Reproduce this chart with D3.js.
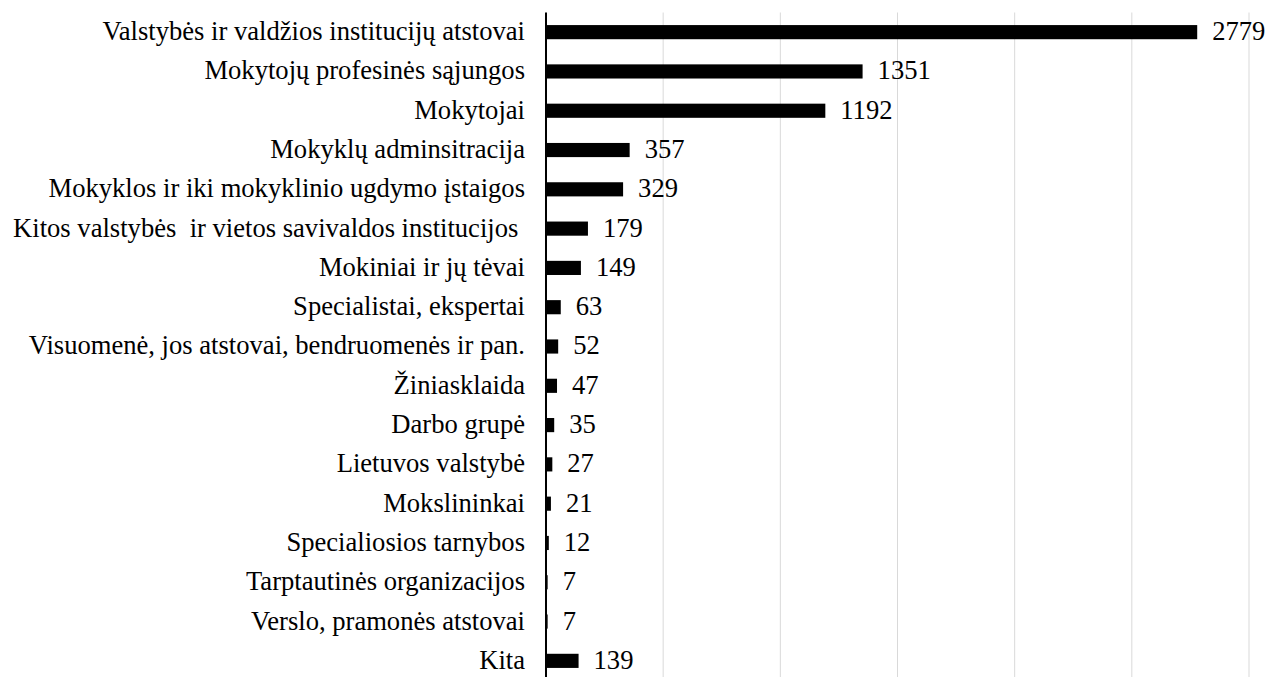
<!DOCTYPE html>
<html>
<head>
<meta charset="utf-8">
<script src="https://cdn.jsdelivr.net/npm/d3@7"></script>
<style>
  body { margin: 0; background: #fff; }
</style>
</head>
<body>
<div id="container"></div>
<script>
/* CONSTANTS AND GLOBALS */
const width = 1268;
const height = 677;
const font = "Liberation Serif";
const fontSize = 26.6;

/* DATA */
const categories = [
  "Valstybės ir valdžios institucijų atstovai",
  "Mokytojų profesinės sąjungos",
  "Mokytojai",
  "Mokyklų adminsitracija",
  "Mokyklos ir iki mokyklinio ugdymo įstaigos",
  "Kitos valstybės  ir vietos savivaldos institucijos ",
  "Mokiniai ir jų tėvai",
  "Specialistai, ekspertai",
  "Visuomenė, jos atstovai, bendruomenės ir pan.",
  "Žiniasklaida",
  "Darbo grupė",
  "Lietuvos valstybė",
  "Mokslininkai",
  "Specialiosios tarnybos",
  "Tarptautinės organizacijos",
  "Verslo, pramonės atstovai",
  "Kita"
];
const values = [2779, 1351, 1192, 357, 329, 179, 149, 63, 52, 47, 35, 27, 21, 12, 7, 7, 139];
const xTicks = [0, 500, 1000, 1500, 2000, 2500, 3000];

const data = categories.map((c, i) => ({ category: c, count: values[i] }));

/* SCALES */
const xScale = d3.scaleLinear()
  .domain([0, 3000])
  .range([546, 1249]);

const yScale = d3.scaleBand()
  .domain(categories)
  .range([12.5, 680.5])
  .paddingInner(0.64)
  .paddingOuter(0.32);

/* HTML ELEMENTS */
const svg = d3.select("#container")
  .append("svg")
  .attr("width", width)
  .attr("height", height)
  .attr("font-family", font);

// gridlines
svg.append("g")
  .selectAll("line")
  .data(xTicks.slice(1))
  .join("line")
  .attr("x1", d => xScale(d))
  .attr("x2", d => xScale(d))
  .attr("y1", 12.5)
  .attr("y2", height)
  .attr("stroke", "#d9d9d9")
  .attr("stroke-width", 1);

// bars
svg.append("g")
  .selectAll("rect")
  .data(data)
  .join("rect")
  .attr("x", xScale(0))
  .attr("y", d => yScale(d.category))
  .attr("width", d => xScale(d.count) - xScale(0))
  .attr("height", yScale.bandwidth())
  .attr("fill", "#000");

// value labels
svg.append("g")
  .selectAll("text")
  .data(data)
  .join("text")
  .attr("x", d => xScale(d.count) + 15)
  .attr("y", d => yScale(d.category) + yScale.bandwidth() / 2)
  .attr("dy", "0.3em")
  .attr("font-family", font)
  .attr("font-size", fontSize)
  .text(d => d.count);

// y axis
const yAxis = d3.axisLeft(yScale).tickSize(0).tickPadding(21);
const gy = svg.append("g")
  .attr("transform", `translate(${xScale(0)},0)`)
  .call(yAxis)
  .attr("font-family", font)
  .attr("font-size", fontSize);
gy.select(".domain").remove();
gy.selectAll("text")
  .attr("dy", "0.3em")
  .attr("fill", "#000")
  .style("white-space", "pre");

svg.append("line")
  .attr("x1", xScale(0))
  .attr("x2", xScale(0))
  .attr("y1", 12.5)
  .attr("y2", height)
  .attr("stroke", "#000")
  .attr("stroke-width", 2);
</script>
</body>
</html>
